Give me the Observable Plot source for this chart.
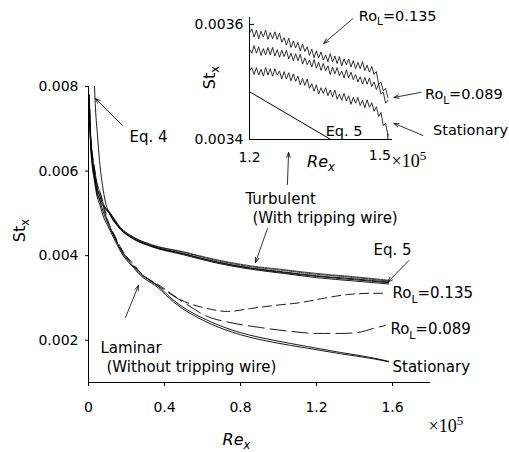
<!DOCTYPE html>
<html>
<head>
<meta charset="utf-8">
<script src="https://cdn.jsdelivr.net/npm/d3@7"></script>
<script src="https://cdn.jsdelivr.net/npm/@observablehq/plot@0.6"></script>
<style>
  html, body { margin: 0; padding: 0; background: #fff; }
  #chart { position: relative; width: 509px; height: 452px; overflow: hidden; background: #fff; }
  #chart svg { position: absolute; top: 0; display: block; }
</style>
</head>
<body>
<div id="chart"></div>
<script>
// ---------- ticks ----------
const xTicks = [0, 0.4, 0.8, 1.2, 1.6];
const xTickLabels = ["0", "0.4", "0.8", "1.2", "1.6"];
const yTicks = [0.002, 0.004, 0.006, 0.008];
const yTickLabels = ["0.002", "0.004", "0.006", "0.008"];
const insetXTicks = [1.2, 1.5];
const insetXTickLabels = ["1.2", "1.5"];
const insetYTicks = [0.0034, 0.0036];
const insetYTickLabels = ["0.0034", "0.0036"];

// ---------- main chart: Re_x in units of 1e5 ----------
// Turbulent (with tripping wire)
const turbRe = [0.004, 0.01, 0.02, 0.03, 0.045, 0.06, 0.08, 0.11, 0.168, 0.237, 0.326, 0.5, 0.679, 0.853, 1.026, 1.2, 1.274, 1.4, 1.579];
const turbStationary = [0.0076, 0.0068, 0.0062, 0.0059, 0.0055, 0.0053, 0.00515, 0.00500, 0.00464, 0.00441, 0.00424, 0.00405, 0.00385, 0.00371, 0.003615, 0.003525, 0.003495, 0.00345, 0.003375];
const turbRo089 = [0.0077, 0.0069, 0.0063, 0.0060, 0.0056, 0.0054, 0.00518, 0.00502, 0.00466, 0.00443, 0.00426, 0.00408, 0.00388, 0.00374, 0.00365, 0.00356, 0.00353, 0.00348, 0.00340];
const turbRo135 = [0.0078, 0.0070, 0.0064, 0.0061, 0.0057, 0.0055, 0.00521, 0.00504, 0.00467, 0.00444, 0.00427, 0.00409, 0.00390, 0.00376, 0.00367, 0.00358, 0.00355, 0.00350, 0.00342];
// Eq. 4 and Eq. 5 correlations
const eq4Re = [0.0316, 0.0368, 0.0474, 0.0579, 0.0737, 0.0895, 0.1105, 0.168, 0.237, 0.326, 0.5, 0.679, 0.853, 1.026, 1.2, 1.4, 1.579];
const eq4St = [0.0080, 0.00748, 0.00684, 0.00625, 0.00566, 0.00526, 0.00500, 0.00463, 0.00440, 0.00423, 0.00404, 0.00384, 0.00370, 0.00360, 0.00351, 0.00343, 0.00336];
const eq5Re = [0.11, 0.168, 0.237, 0.326, 0.5, 0.679, 0.853, 1.026, 1.2, 1.4, 1.579];
const eq5St = [0.00499, 0.00462, 0.00439, 0.00422, 0.00402, 0.00382, 0.00368, 0.00358, 0.00348, 0.00340, 0.00333];
// Laminar (without tripping wire)
const lamRe = [0.004, 0.01, 0.02, 0.03, 0.045, 0.06, 0.08, 0.1, 0.13, 0.18, 0.24, 0.263, 0.361, 0.449, 0.626, 0.8, 0.974, 1.153, 1.326, 1.5, 1.579];
const lamStationary = [0.0076, 0.0068, 0.0062, 0.0059, 0.0055, 0.0053, 0.0050, 0.00478, 0.00449, 0.00406, 0.00373, 0.00361, 0.00330, 0.00294, 0.00247, 0.00218, 0.00200, 0.00185, 0.00171, 0.00158, 0.00150];
const lamStationary2 = [0.0075, 0.0067, 0.0061, 0.0058, 0.0054, 0.0052, 0.0049, 0.00472, 0.00444, 0.00402, 0.00370, 0.00358, 0.00326, 0.00290, 0.00242, 0.00213, 0.00195, 0.00181, 0.00168, 0.00156, 0.00149];
const lam089Re = [0.004, 0.01, 0.02, 0.03, 0.045, 0.06, 0.08, 0.1, 0.13, 0.18, 0.24, 0.274, 0.379, 0.5, 0.626, 0.732, 0.889, 1.063, 1.205, 1.326, 1.416, 1.5, 1.563];
const lam089St = [0.0077, 0.0069, 0.0063, 0.0060, 0.0056, 0.0054, 0.0051, 0.00482, 0.00452, 0.00409, 0.00376, 0.00359, 0.00325, 0.00290, 0.00256, 0.00243, 0.00231, 0.00221, 0.00216, 0.00216, 0.00218, 0.00228, 0.00235];
const lam135Re = [0.004, 0.01, 0.02, 0.03, 0.045, 0.06, 0.08, 0.1, 0.13, 0.18, 0.24, 0.274, 0.379, 0.484, 0.626, 0.732, 0.853, 0.974, 1.116, 1.237, 1.363, 1.5, 1.553];
const lam135St = [0.0078, 0.0070, 0.0064, 0.0061, 0.0057, 0.0055, 0.0052, 0.00485, 0.00455, 0.00411, 0.00378, 0.00360, 0.00328, 0.00296, 0.00275, 0.00268, 0.00275, 0.00282, 0.00289, 0.00299, 0.00308, 0.00311, 0.00311];

// ---------- inset (turbulent, 1.2 - 1.5 x 1e5) ----------
const insetRe = [1.2, 1.205, 1.21, 1.215, 1.22, 1.225, 1.23, 1.235, 1.24, 1.245, 1.25, 1.255, 1.26, 1.265, 1.27, 1.275, 1.28, 1.285, 1.29, 1.295, 1.3, 1.305, 1.31, 1.315, 1.32, 1.325, 1.33, 1.335, 1.34, 1.345, 1.35, 1.355, 1.36, 1.365, 1.37, 1.375, 1.38, 1.385, 1.39, 1.395, 1.4, 1.405, 1.41, 1.415, 1.42, 1.425, 1.43, 1.435, 1.44, 1.445, 1.45, 1.455, 1.46, 1.465, 1.47, 1.475, 1.48, 1.485, 1.49, 1.495, 1.5];
const insetRo135 = [0.003585, 0.003592, 0.003578, 0.003590, 0.003575, 0.003588, 0.003578, 0.003590, 0.003574, 0.003586, 0.003575, 0.003587, 0.003574, 0.003585, 0.003569, 0.003577, 0.003564, 0.003576, 0.003560, 0.003571, 0.003559, 0.003569, 0.003554, 0.003566, 0.003553, 0.003561, 0.003546, 0.003557, 0.003542, 0.003554, 0.003542, 0.003552, 0.003538, 0.003547, 0.003535, 0.003549, 0.003535, 0.003545, 0.003532, 0.003544, 0.003528, 0.003540, 0.003530, 0.003540, 0.003526, 0.003537, 0.003523, 0.003534, 0.003523, 0.003535, 0.003520, 0.003529, 0.003517, 0.003527, 0.003513, 0.003518, 0.003496, 0.003500, 0.003485, 0.003489, 0.003473];
const insetRo089 = [0.003557, 0.003550, 0.003563, 0.003550, 0.003561, 0.003546, 0.003558, 0.003547, 0.003560, 0.003547, 0.003560, 0.003545, 0.003556, 0.003543, 0.003555, 0.003544, 0.003555, 0.003540, 0.003550, 0.003537, 0.003549, 0.003537, 0.003548, 0.003531, 0.003542, 0.003530, 0.003538, 0.003526, 0.003539, 0.003524, 0.003534, 0.003520, 0.003532, 0.003520, 0.003528, 0.003513, 0.003526, 0.003514, 0.003525, 0.003511, 0.003519, 0.003507, 0.003521, 0.003507, 0.003517, 0.003504, 0.003513, 0.003500, 0.003509, 0.003496, 0.003508, 0.003496, 0.003507, 0.003492, 0.003500, 0.003487, 0.003496, 0.003479, 0.003482, 0.003463, 0.003468];
const insetStationary = [0.003519, 0.003525, 0.003513, 0.003525, 0.003512, 0.003522, 0.003510, 0.003525, 0.003512, 0.003523, 0.003510, 0.003523, 0.003512, 0.003519, 0.003505, 0.003518, 0.003505, 0.003516, 0.003502, 0.003514, 0.003501, 0.003510, 0.003495, 0.003506, 0.003494, 0.003505, 0.003489, 0.003497, 0.003484, 0.003495, 0.003479, 0.003490, 0.003480, 0.003490, 0.003476, 0.003486, 0.003474, 0.003486, 0.003470, 0.003479, 0.003468, 0.003480, 0.003467, 0.003476, 0.003461, 0.003473, 0.003463, 0.003473, 0.003459, 0.003468, 0.003455, 0.003469, 0.003456, 0.003464, 0.003449, 0.003457, 0.003440, 0.003447, 0.003424, 0.003428, 0.003408];
const insetEq5Re = [1.2, 1.3761];
const insetEq5St = [0.003483, 0.0034];

// ---------- annotations (data coordinates) ----------
const mainLabels = [
  {text: "Eq. 4", x: 0.2158, y: 0.006794},
  {text: "Turbulent", x: 0.826, y: 0.005328},
  {text: "(With tripping wire)", x: 0.863, y: 0.004878},
  {text: "Eq. 5", x: 1.5, y: 0.004122},
  {text: "Ro_L=0.135", x: 1.6, y: 0.003105},
  {text: "Ro_L=0.089", x: 1.589, y: 0.002253},
  {text: "Stationary", x: 1.6, y: 0.001355},
  {text: "Laminar", x: 0.0632, y: 0.001811},
  {text: "(Without tripping wire)", x: 0.0947, y: 0.001355}
];
const mainArrows = [
  {x1: 0.1789, y1: 0.007078, x2: 0.0368, y2: 0.007716},
  {x1: 0.942, y1: 0.004642, x2: 0.879, y2: 0.003838},
  {x1: 0.1947, y1: 0.002537, x2: 0.263, y2: 0.003294},
  {x1: 1.686, y1: 0.003885, x2: 1.575, y2: 0.003372},
  {x1: 1.047, y1: 0.005682, x2: 1.053, y2: 0.006439}
];
const insetLabels = [
  {text: "Ro_L=0.135", x: 1.4370, y: 0.003614},
  {text: "Ro_L=0.089", x: 1.5804, y: 0.003478},
  {text: "Stationary", x: 1.598, y: 0.003416},
  {text: "Eq. 5", x: 1.3652, y: 0.003414}
];
const insetArrows = [
  {x1: 1.4239, y1: 0.003610, x2: 1.3609, y2: 0.003567},
  {x1: 1.5717, y1: 0.003482, x2: 1.5130, y2: 0.003473},
  {x1: 1.5761, y1: 0.003407, x2: 1.5130, y2: 0.003428}
];

// ---------- rendering ----------
const F = "'DejaVu Sans', sans-serif";
const SERIF = "'Liberation Serif', 'DejaVu Serif', serif";
const P = (xs, ys) => xs.map((x, i) => ({x, y: ys[i]}));
const L = {x: "x", y: "y", stroke: "#000", curve: "monotone-x"};

const mainSvg = Plot.plot({
  width: 509, height: 452,
  marginTop: 86, marginRight: 79, marginBottom: 70, marginLeft: 88,
  style: {fontFamily: F, fontSize: "14px", color: "#000", background: "transparent", overflow: "visible"},
  x: {domain: [0, 1.8]},
  y: {domain: [0.001, 0.008]},
  marks: [
    Plot.axisX({ticks: xTicks, tickFormat: d => xTickLabels[xTicks.indexOf(d)], tickSize: 4, tickPadding: 16, label: null, fontSize: 14}),
    Plot.axisY({ticks: yTicks, tickFormat: d => yTickLabels[yTicks.indexOf(d)], tickSize: 3, tickPadding: 7, label: null, fontSize: 14}),
    Plot.ruleX([0], {stroke: "#000", strokeWidth: 1}),
    Plot.ruleY([0.001], {stroke: "#000", strokeWidth: 1}),
    // laminar
    Plot.line(P(lamRe, lamStationary), {...L, strokeWidth: 0.9}),
    Plot.line(P(lamRe, lamStationary2), {...L, strokeWidth: 0.9}),
    Plot.line(P(lam089Re, lam089St), {...L, strokeWidth: 0.9, strokeDasharray: "16,6"}),
    Plot.line(P(lam135Re, lam135St), {...L, strokeWidth: 0.9, strokeDasharray: "9,5"}),
    // turbulent
    Plot.line(P(turbRe, turbStationary), {...L, strokeWidth: 0.9}),
    Plot.line(P(turbRe, turbRo089), {...L, strokeWidth: 0.8, strokeDasharray: "3,1"}),
    Plot.line(P(turbRe, turbRo135), {...L, strokeWidth: 0.8, strokeDasharray: "2,1"}),
    Plot.line(P(eq4Re, eq4St), {...L, strokeWidth: 0.9}),
    Plot.line(P(eq5Re, eq5St), {...L, strokeWidth: 0.9}),
    // annotations
    Plot.arrow(mainArrows, {x1: "x1", y1: "y1", x2: "x2", y2: "y2", stroke: "#000", strokeWidth: 0.8, headLength: 10, headAngle: 40}),
    Plot.text(mainLabels, {x: "x", y: "y", text: "text", textAnchor: "start", lineAnchor: "middle", fontSize: 15}),
    Plot.text(["St_x"], {text: d => d, frameAnchor: "left", textAnchor: "middle", lineAnchor: "middle", dx: -69, dy: -4, rotate: -90, fontSize: 16}),
    Plot.text(["Re_x"], {text: d => d, frameAnchor: "bottom", textAnchor: "middle", lineAnchor: "middle", dx: -23, dy: 57, fontSize: 16, fontStyle: "italic"}),
    Plot.text(["×10^5"], {text: d => d, frameAnchor: "bottom-right", textAnchor: "start", lineAnchor: "middle", dx: -2, dy: 44, fontSize: 18, fontFamily: SERIF})
  ]
});

const IL = {x: "x", y: "y", stroke: "#000", strokeWidth: 0.8};
const insetSvg = Plot.plot({
  width: 314, height: 175,
  marginTop: 17, marginRight: 117, marginBottom: 36, marginLeft: 54,
  style: {fontFamily: F, fontSize: "14px", color: "#000", background: "transparent", overflow: "visible"},
  x: {domain: [1.2, 1.51], axis: null},
  y: {domain: [0.0034, 0.003612]},
  marks: [
    Plot.axisY({ticks: insetYTicks, tickFormat: d => insetYTickLabels[insetYTicks.indexOf(d)], tickSize: 0, tickPadding: 6, label: null, fontSize: 14}),
    Plot.text([insetXTicks[0]], {x: d => d, text: d => insetXTickLabels[insetXTicks.indexOf(d)], frameAnchor: "bottom", textAnchor: "middle", lineAnchor: "top", dy: 13, fontSize: 14}),
    Plot.text([insetXTicks[1]], {x: d => d, text: d => insetXTickLabels[insetXTicks.indexOf(d)], frameAnchor: "bottom", textAnchor: "middle", lineAnchor: "top", dx: -8, dy: 11, fontSize: 14}),
    Plot.ruleX([1.2], {stroke: "#000"}),
    Plot.ruleY([0.0034], {stroke: "#000"}),
    Plot.ruleX([1.5], {stroke: "#000", insetTop: 117}),
    Plot.ruleY([0.0036], {stroke: "#000", insetRight: 138}),
    Plot.line(P(insetRe, insetRo135), IL),
    Plot.line(P(insetRe, insetRo089), IL),
    Plot.line(P(insetRe, insetStationary), IL),
    Plot.line(P(insetEq5Re, insetEq5St), {...IL, strokeWidth: 1, clip: true}),
    Plot.arrow(insetArrows, {x1: "x1", y1: "y1", x2: "x2", y2: "y2", stroke: "#000", strokeWidth: 0.8, headLength: 10, headAngle: 40}),
    Plot.text(insetLabels, {x: "x", y: "y", text: "text", textAnchor: "start", lineAnchor: "middle", fontSize: 14.5}),
    Plot.text(["St_x"], {text: d => d, frameAnchor: "left", textAnchor: "middle", lineAnchor: "middle", dx: -40, dy: -1, rotate: -90, fontSize: 16}),
    Plot.text(["Re_x"], {text: d => d, frameAnchor: "bottom", textAnchor: "middle", lineAnchor: "middle", dx: 0, dy: 22, fontSize: 16, fontStyle: "italic"}),
    Plot.text(["×10^5"], {text: d => d, frameAnchor: "bottom-right", textAnchor: "start", lineAnchor: "middle", dx: -1, dy: 22, fontSize: 18, fontFamily: SERIF})
  ]
});

const chart = document.getElementById("chart");
mainSvg.style.left = "0px";
insetSvg.style.left = "195px";
chart.appendChild(mainSvg);
chart.appendChild(insetSvg);

// sub/superscripts as real text via tspans
const SVGNS = "http://www.w3.org/2000/svg";
function richify(svg) {
  svg.querySelectorAll("text").forEach(el => {
    const s = el.textContent;
    if (!/[_^]/.test(s)) return;
    const fs = parseFloat(getComputedStyle(el).fontSize) || 15;
    const parts = [];
    let buf = "";
    for (let i = 0; i < s.length; i++) {
      const c = s[i];
      if ((c === "_" || c === "^") && i + 1 < s.length) {
        if (buf) parts.push([buf, 0]);
        buf = "";
        parts.push([s[i + 1], c === "_" ? 1 : 2]);
        i++;
      } else buf += c;
    }
    if (buf) parts.push([buf, 0]);
    while (el.firstChild) el.removeChild(el.firstChild);
    let shift = 0;
    for (const [t, m] of parts) {
      const ts = document.createElementNS(SVGNS, "tspan");
      const target = m === 1 ? fs * 0.3 : m === 2 ? -fs * 0.4 : 0;
      if (target !== shift) ts.setAttribute("dy", (target - shift).toFixed(2));
      shift = target;
      if (m) ts.setAttribute("font-size", (fs * 0.72).toFixed(1) + "px");
      ts.textContent = t;
      el.appendChild(ts);
    }
  });
}
richify(mainSvg);
richify(insetSvg);
</script>
</body>
</html>
